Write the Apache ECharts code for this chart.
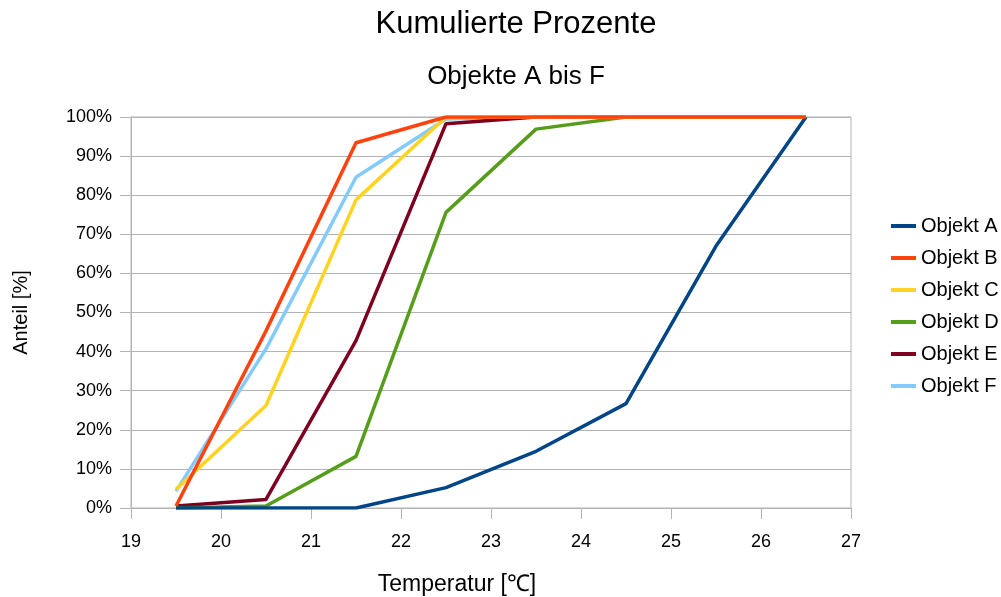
<!DOCTYPE html>
<html>
<head>
<meta charset="utf-8">
<script src="https://cdn.jsdelivr.net/npm/echarts@6/dist/echarts.min.js"></script>
<style>html,body{margin:0;padding:0;background:#fff;}#c{width:1001px;height:597px;}</style>
</head>
<body>
<div id="c"></div>
<script>
const temperatures = [19.5, 20.5, 21.5, 22.5, 23.5, 24.5, 25.5, 26.5];
const seriesNames = ['Objekt A', 'Objekt B', 'Objekt C', 'Objekt D', 'Objekt E', 'Objekt F'];
const objektA = [0, 0, 0, 5.2, 14.5, 26.7, 67, 100];
const objektB = [0.5, 45.3, 93.4, 100, 100, 100, 100, 100];
const objektC = [4.8, 26.2, 78.8, 100, 100, 100, 100, 100];
const objektD = [0, 0.5, 13.2, 75.6, 96.9, 100, 100, 100];
const objektE = [0.5, 2.2, 42.8, 98.3, 100, 100, 100, 100];
const objektF = [4.3, 40.7, 84.6, 99.5, 100, 100, 100, 100];
const colors = ['#004586', '#ff420e', '#ffd320', '#579d1c', '#7e0021', '#83caff'];
const zOrder = [6, 7, 5, 4, 3, 2];

const allValues = [objektA, objektB, objektC, objektD, objektE, objektF];
const font = "'Liberation Sans', Arial, sans-serif";
const gridColor = '#b3b3b3';

const chart = echarts.init(document.getElementById('c'), null, {renderer: 'canvas'});
chart.setOption({
  animation: false,
  backgroundColor: '#ffffff',
  title: [
    {text: 'Kumulierte Prozente', left: 511, top: 4, textAlign: 'center',
     textStyle: {fontFamily: font, fontSize: 31, fontWeight: 'normal', color: '#000'}},
    {text: 'Objekte A bis F', left: 511, top: 59, textAlign: 'center',
     textStyle: {fontFamily: font, fontSize: 26, fontWeight: 'normal', color: '#000'}}
  ],
  legend: {
    orient: 'vertical', left: 886, top: 211, itemWidth: 25, itemHeight: 4, itemGap: 12,
    icon: 'rect', data: seriesNames,
    textStyle: {fontFamily: font, fontSize: 20, color: '#000'}
  },
  grid: {left: 131, right: 150, top: 117, bottom: 89, show: true, borderColor: gridColor, borderWidth: 1,
         containLabel: false, outerBoundsMode: 'none'},
  xAxis: {
    type: 'value', min: 19, max: 27, interval: 1,
    name: 'Temperatur [℃]', nameLocation: 'middle', nameGap: 65,
    nameTextStyle: {fontFamily: font, fontSize: 23, color: '#000', padding: [0, 68, 0, 0]},
    axisLine: {show: true, lineStyle: {color: gridColor, width: 1}},
    axisTick: {show: true, length: 11, lineStyle: {color: gridColor}},
    axisLabel: {fontFamily: font, fontSize: 18, color: '#000', margin: 25},
    splitLine: {show: false}
  },
  yAxis: {
    type: 'value', min: 0, max: 100, interval: 10,
    name: 'Anteil [%]', nameLocation: 'middle', nameGap: 100, nameRotate: 90,
    nameTextStyle: {fontFamily: font, fontSize: 20, color: '#000'},
    axisLine: {show: true, lineStyle: {color: gridColor, width: 1}},
    axisTick: {show: true, length: 11, lineStyle: {color: gridColor}},
    axisLabel: {fontFamily: font, fontSize: 18, color: '#000', margin: 19, formatter: '{value}%'},
    splitLine: {show: true, lineStyle: {color: gridColor, width: 1}}
  },
  series: seriesNames.map((name, i) => ({
    name: name, type: 'line', z: zOrder[i],
    data: temperatures.map((t, j) => [t, allValues[i][j]]),
    showSymbol: false, symbol: 'none',
    lineStyle: {color: colors[i], width: 3.5},
    itemStyle: {color: colors[i]}
  }))
});
</script>
</body>
</html>
